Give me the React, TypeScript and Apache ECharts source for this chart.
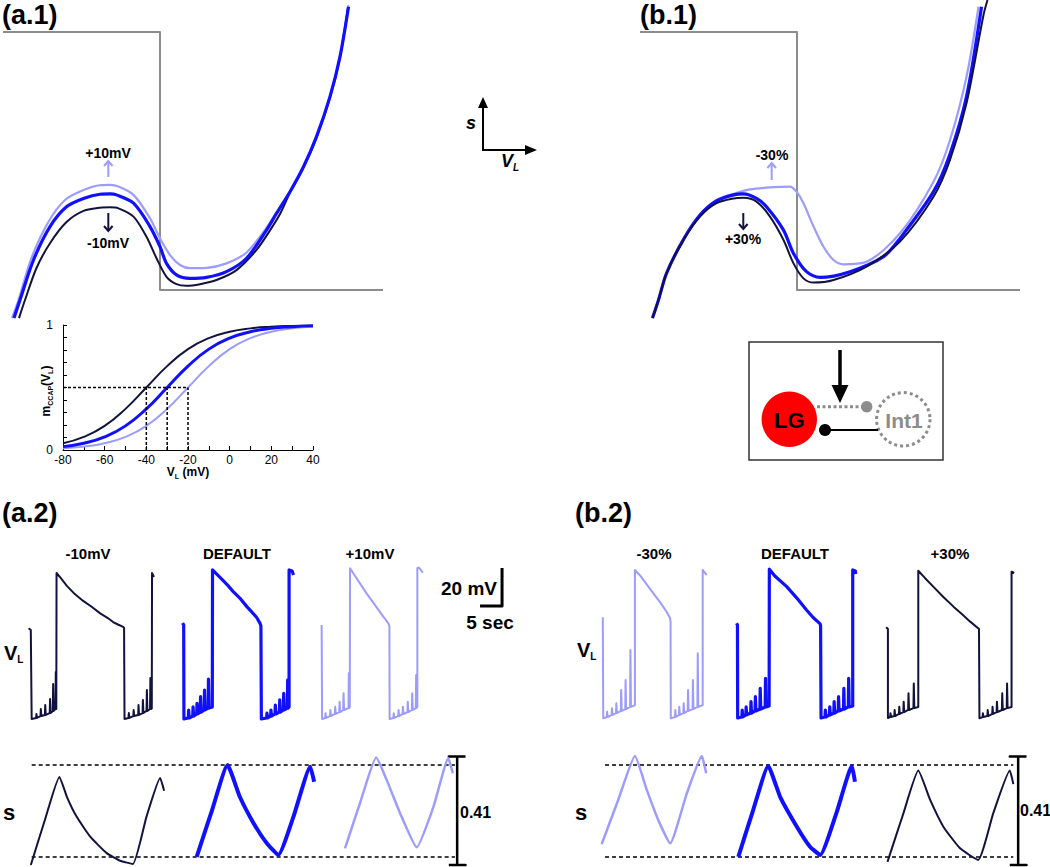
import React, { useEffect, useRef } from "react";
import * as echarts from "echarts";

type P = [number, number];
type Spike = [number, number, number]; // [time s, baseline mV, spike peak mV]

const FONT = '"Liberation Sans", Arial, sans-serif';
const DARK = "#12123e";
const BLUE = "#1010ff";
const LIGHT = "#9c9cff";
const GRAY = "#8c8c8c";

// ---------- (a.1) / (b.1) nullclines : [V_L (mV, arbitrary origin), s] ----------
const stepNullcline: P[] = [[-59.4, 0.9], [-28, 0.9], [-28, 0.094], [16.6, 0.094]];

const a1Default: P[] = [[-57.2, 0.006], [-56, 0.0625], [-53.3, 0.1875], [-50, 0.292], [-46.7, 0.354], [-43.3, 0.38], [-40, 0.393], [-38, 0.394], [-36.7, 0.391], [-33.3, 0.365], [-30, 0.292], [-28, 0.229], [-26.7, 0.177], [-24.7, 0.141], [-22, 0.13], [-18.7, 0.133], [-14.7, 0.151], [-10.7, 0.193], [-6.7, 0.281], [-4.7, 0.333], [-2, 0.401], [0.7, 0.479], [3.3, 0.573], [6, 0.698], [8, 0.823], [9.7, 0.979]];
const a1Plus10: P[] = [[-57.6, 0.006], [-56.3, 0.0625], [-53.7, 0.194], [-50.3, 0.307], [-47, 0.375], [-43.3, 0.406], [-40, 0.421], [-38, 0.422], [-36.3, 0.417], [-33.3, 0.391], [-30, 0.318], [-28, 0.255], [-26, 0.203], [-24, 0.172], [-22, 0.162], [-18.7, 0.163], [-14.7, 0.177], [-10.7, 0.211], [-6.7, 0.288], [-4.7, 0.336], [-2, 0.4], [0.7, 0.478], [3.3, 0.572], [6, 0.697], [8, 0.822], [9.7, 0.984]];
const a1Minus10: P[] = [[-56.2, 0.006], [-55, 0.0625], [-52.7, 0.1625], [-50, 0.24], [-46.7, 0.306], [-43.3, 0.341], [-40, 0.351], [-38, 0.352], [-36.3, 0.349], [-33.3, 0.323], [-30.7, 0.26], [-28.7, 0.193], [-26.7, 0.135], [-24.7, 0.112], [-22.7, 0.107], [-20, 0.112], [-16.7, 0.125], [-12.7, 0.156], [-8.7, 0.219], [-6, 0.28], [-4, 0.331], [-2, 0.398], [0.7, 0.477], [3.3, 0.57], [6, 0.695], [8, 0.82], [9.6, 0.975]];

const b1Plus30: P[] = [[-56.9, 0.006], [-55.7, 0.0625], [-54.1, 0.146], [-50.7, 0.25], [-47.4, 0.323], [-44.1, 0.365], [-40.7, 0.38], [-38.7, 0.382], [-36.1, 0.37], [-33.4, 0.323], [-30.7, 0.25], [-28.7, 0.177], [-26.7, 0.13], [-24.7, 0.117], [-20.7, 0.125], [-14.1, 0.167], [-7.4, 0.245], [-0.7, 0.385], [2.6, 0.5], [5.9, 0.677], [9.3, 0.953], [10.1, 1.0]];
const b1Default: P[] = [[-56.9, 0.006], [-55.7, 0.0625], [-54.1, 0.146], [-50.7, 0.252], [-47.4, 0.328], [-44.1, 0.372], [-40.7, 0.391], [-38.7, 0.394], [-36.1, 0.38], [-34.1, 0.354], [-30.7, 0.281], [-28.7, 0.208], [-26.1, 0.151], [-23.4, 0.133], [-17.4, 0.151], [-10.7, 0.198], [-7.4, 0.255], [-0.7, 0.401], [2.6, 0.519], [5.9, 0.698], [8.9, 0.979]];
const b1Minus30: P[] = [[-56.9, 0.006], [-55.7, 0.0625], [-54.1, 0.146], [-50.7, 0.252], [-47.4, 0.328], [-44.1, 0.375], [-40.7, 0.394], [-37.4, 0.408], [-32.7, 0.415], [-29.4, 0.417], [-28.1, 0.401], [-26.7, 0.365], [-24.7, 0.292], [-22.7, 0.229], [-20.7, 0.1875], [-18.7, 0.174], [-14.1, 0.182], [-7.4, 0.271], [-0.7, 0.432], [2.6, 0.5625], [5.9, 0.76], [8.3, 0.979]];

// ---------- inset m_CCAP(V_L) ----------
const mVolt = [-80, -70, -60, -50, -40, -30, -20, -10, 0, 10, 20, 30, 40];
const mMinus10 = [0.054, 0.105, 0.193, 0.329, 0.5, 0.671, 0.807, 0.895, 0.946, 0.973, 0.986, 0.993, 0.997];
const mDefault = [0.027, 0.054, 0.105, 0.193, 0.329, 0.5, 0.671, 0.807, 0.895, 0.946, 0.973, 0.986, 0.993];
const mPlus10 = [0.014, 0.027, 0.054, 0.105, 0.193, 0.329, 0.5, 0.671, 0.807, 0.895, 0.946, 0.973, 0.986];
const halfActV = [-40, -30, -20];
const halfActM = 0.5;

// ---------- V_L traces : time (s) , mV ----------
const a2m10Start: P[] = [[6.5, -19.1], [7.0, -20.0], [7.2, -66.8]];
const a2m10Burst1: Spike[] = [[8.2, -66.3, -64.2], [9.2, -65.3, -61.6], [10.2, -64.7, -59.5], [11.3, -63.7, -56.3], [12.0, -62.6, -48.4], [12.6, -61.6, -42.1]];
const a2m10Plateau: P[] = [[12.85, -61.6], [12.85, 10.0], [13.6, 7.9], [15.2, 3.2], [17.0, -1.1], [18.9, -4.7], [20.9, -7.9], [22.7, -11.1], [24.5, -13.7], [25.7, -15.8], [26.8, -17.1], [28.0, -18.4], [28.2, -18.9], [28.3, -66.8]];
const a2m10Burst2: Spike[] = [[29.2, -66.3, -63.7], [30.3, -65.3, -62.1], [31.4, -64.7, -59.5], [32.4, -63.7, -56.8], [33.3, -62.6, -51.6], [34.1, -61.6, -45.3]];
const a2m10End: P[] = [[34.5, -61.3], [34.55, 10.0], [35.0, 7.9]];

const a2defStart: P[] = [[41.5, -16.3], [41.75, -17.4], [41.8, -66.8]];
const a2defBurst1: Spike[] = [[42.8, -66.3, -62.1], [43.8, -65.3, -60.4], [44.7, -64.2, -58.6], [45.5, -63.2, -55.1], [46.4, -62.1, -51.6], [47.3, -61.1, -45.9]];
const a2defPlateau: P[] = [[48.25, -60.5], [48.3, 11.6], [50.0, 7.7], [51.5, 4.2], [53.0, 0.2], [54.5, -3.2], [56.1, -7.7], [57.2, -10.5], [58.3, -13.3], [59.1, -16.5], [59.3, -17.9], [59.4, -66.8]];
const a2defBurst2: Spike[] = [[60.6, -66.3, -63.8], [61.5, -65.3, -62.1], [62.5, -64.2, -59.5], [63.5, -63.2, -56.8], [64.4, -62.1, -53.3], [65.3, -61.1, -46.3]];
const a2defEnd: P[] = [[65.7, -60.5], [65.7, 11.6], [66.4, 11.1], [66.7, 8.9]];

const a2p10Start: P[] = [[73.1, -17.4], [73.2, -66.8]];
const a2p10Burst1: Spike[] = [[73.9, -66.3, -63.8], [75.0, -65.3, -62.1], [76.1, -64.2, -60.4], [77.1, -63.2, -57.7], [78.0, -62.1, -53.3], [79.2, -61.1, -42.8]];
const a2p10Plateau: P[] = [[79.5, -60.5], [79.55, 12.5], [80.7, 8.4], [83.3, -0.7], [85.2, -6.8], [87.1, -13.0], [87.7, -14.7], [88.25, -16.5], [88.5, -17.9], [88.55, -66.8]];
const a2p10Burst2: Spike[] = [[89.4, -66.3, -63.8], [90.5, -65.3, -62.1], [91.5, -64.2, -60.4], [92.6, -63.2, -57.7], [93.6, -62.1, -53.3], [94.5, -61.1, -43.7]];
const a2p10End: P[] = [[94.85, -60.5], [94.85, 12.5], [95.2, 12.9], [96.1, 10.2]];

const b2m30Start: P[] = [[137.0, -13.3], [137.1, -66.5]];
const b2m30Burst1: Spike[] = [[137.9, -65.8, -63.0], [139.0, -64.7, -61.2], [140.0, -63.7, -58.6], [141.1, -62.6, -51.6], [142.1, -61.6, -46.3], [143.2, -60.5, -30.5]];
const b2m30Plateau: P[] = [[144.3, -59.5], [144.3, 11.6], [145.5, 8.6], [148.5, -0.7], [150.0, -5.3], [151.5, -10.4], [152.3, -13.8], [152.4, -15.8], [152.45, -66.5]];
const b2m30Burst2: Spike[] = [[153.4, -65.8, -62.1], [154.3, -64.7, -60.4], [155.3, -63.7, -58.6], [156.3, -62.6, -51.6], [157.4, -61.6, -46.3], [158.5, -60.5, -32.3]];
const b2m30End: P[] = [[159.7, -59.5], [159.7, 11.6], [160.6, 8.9]];

const b2defStart: P[] = [[167.4, -16.5], [167.6, -17.4], [167.65, -66.3]];
const b2defBurst1: Spike[] = [[168.6, -65.8, -62.1], [169.5, -64.7, -60.4], [170.6, -63.7, -57.7], [171.6, -62.6, -55.1], [172.7, -61.6, -50.7], [173.9, -60.5, -45.4]];
const b2defPlateau: P[] = [[174.8, -60.0], [174.85, 12.0], [176.1, 8.4], [178.8, 2.8], [181.1, -3.2], [183.3, -9.5], [184.8, -13.4], [186.4, -16.8], [186.5, -17.9], [186.6, -66.3]];
const b2defBurst2: Spike[] = [[187.5, -65.8, -62.1], [188.5, -64.7, -60.4], [189.5, -63.7, -57.7], [190.5, -62.6, -55.1], [191.7, -61.6, -50.7], [192.8, -60.5, -45.4]];
const b2defEnd: P[] = [[193.8, -60.0], [193.8, 11.6], [194.4, 11.1], [194.5, 9.5]];

const b2p30Start: P[] = [[201.4, -18.6], [201.8, -19.5], [201.8, -66.3]];
const b2p30Burst1: Spike[] = [[202.3, -65.8, -63.8], [203.25, -65.3, -62.1], [204.3, -64.2, -60.4], [205.3, -63.2, -57.7], [206.4, -62.1, -53.3], [207.6, -61.1, -48.1]];
const b2p30Plateau: P[] = [[208.7, -60.5], [208.7, 11.2], [210.2, 7.4], [212.1, 2.8], [214.4, -2.6], [216.7, -7.7], [218.6, -11.6], [220.5, -15.6], [222.3, -19.1], [222.5, -19.5], [222.6, -66.5]];
const b2p30Burst2: Spike[] = [[223.3, -65.8, -63.8], [224.4, -65.3, -62.1], [225.5, -64.2, -60.4], [226.5, -63.2, -57.7], [227.7, -62.1, -53.3], [228.8, -61.1, -48.1]];
const b2p30End: P[] = [[229.9, -60.5], [229.9, 10.7], [230.5, 10.0]];

// scale bar: 5 sec x 20 mV
const scaleBarOrigin: P = [109.1, -7.4];
const scaleBarSec = 5;
const scaleBarMV = 20;

// ---------- s traces : time (s), s ----------
const sA2Minus10: P[] = [[7.0, 0.0], [10.2, 0.17], [13.5, 0.333], [15.2, 0.258], [17.4, 0.183], [20.5, 0.107], [24.25, 0.045], [27.3, 0.016], [30.2, 0.004], [33.3, 0.183], [36.4, 0.329], [37.3, 0.281]];
const sA2Default: P[] = [[44.7, 0.031], [48.2, 0.208], [51.7, 0.378], [54.5, 0.258], [57.6, 0.159], [60.6, 0.083], [63.25, 0.038], [66.7, 0.183], [70.5, 0.372], [71.4, 0.315]];
const sA2Plus10: P[] = [[78.4, 0.063], [81.8, 0.233], [85.5, 0.407], [87.9, 0.321], [90.9, 0.197], [94.7, 0.067], [98.5, 0.22], [101.9, 0.404], [102.9, 0.347]];
const sB2Minus30: P[] = [[136.75, 0.079], [140.5, 0.246], [144.3, 0.412], [147.0, 0.284], [149.6, 0.17], [152.3, 0.082], [156.1, 0.271], [159.5, 0.412], [160.5, 0.347]];
const sB2Default: P[] = [[167.8, 0.031], [171.1, 0.204], [174.6, 0.374], [177.3, 0.258], [181.1, 0.145], [184.1, 0.069], [186.4, 0.038], [190.2, 0.202], [193.6, 0.374], [194.3, 0.315]];
const sB2Plus30: P[] = [[201.7, 0.012], [205.2, 0.189], [208.7, 0.357], [211.4, 0.246], [214.4, 0.145], [218.2, 0.063], [222.3, 0.019], [225.75, 0.196], [229.5, 0.357], [230.3, 0.306]];

const sDefaultLevels = [0.03, 0.378];
const sGuideA2 = [7.2, 103.4];
const sGuideB2 = [137.5, 230.3];
const sBracket = [0, 0.41];
const sBracketT = [103.9, 231.4];

// ---------------------------------------------------------------
const expandBurst = (spikes: Spike[]): P[] =>
  spikes.flatMap(([t, b, p]) => [[t, b], [t + 0.08, p], [t + 0.2, b]] as P[]);
const buildTrace = (s: P[], b1: Spike[], pl: P[], b2: Spike[], e: P[]): P[] => [
  ...s, ...expandBurst(b1), ...pl, ...expandBurst(b2), ...e,
];

const ln = (axis: number, data: any[], color: string, width: number, smooth: number | boolean = false, dash?: number[]) => ({
  type: "line",
  xAxisIndex: axis,
  yAxisIndex: axis,
  data,
  symbol: "none",
  showSymbol: false,
  smooth,
  silent: true,
  clip: false,
  animation: false,
  lineStyle: { color, width, type: dash ?? "solid", cap: "butt", join: "round" },
  emphasis: { disabled: true },
});

export default function App() {
  const ref = useRef<HTMLDivElement>(null);

  useEffect(() => {
    if (!ref.current) return;
    const chart = echarts.init(ref.current, undefined, { renderer: "svg" });

    const canvas = document.createElement("canvas");
    const ctx = canvas.getContext("2d")!;
    const measure = (t: string, font: string) => {
      ctx.font = font;
      return ctx.measureText(t).width;
    };

    const T = (text: string, x: number, y: number, size: number, extra: any = {}) => {
      const align = extra.align ?? "center";
      return {
        type: "text",
        x,
        y,
        silent: true,
        z: 10,
        style: {
          text,
          fontSize: size,
          fontWeight: extra.fontWeight ?? "bold",
          fontStyle: extra.fontStyle ?? "normal",
          fontFamily: FONT,
          fill: extra.fill ?? "#000",
          align,
          verticalAlign: "middle",
          textAlign: align,
          textVerticalAlign: "middle",
        },
      };
    };

    const subLabel = (
      parts: { t: string; sub?: boolean }[],
      x: number,
      y: number,
      size: number,
      subSize: number,
      align: "left" | "center" | "right",
      rotation = 0,
      italic = false,
      weight = "bold"
    ) => {
      const st = italic ? "italic" : "normal";
      const widths = parts.map((p) => measure(p.t, `${st} ${weight} ${p.sub ? subSize : size}px ${FONT}`));
      const total = widths.reduce((a, b) => a + b, 0);
      let cx = align === "center" ? -total / 2 : align === "right" ? -total : 0;
      const children = parts.map((p, i) => {
        const el = {
          type: "text",
          x: cx,
          y: p.sub ? size * 0.34 : 0,
          style: {
            text: p.t,
            fontSize: p.sub ? subSize : size,
            fontWeight: weight,
            fontStyle: st,
            fontFamily: FONT,
            fill: "#000",
            align: "left",
            verticalAlign: "middle",
            textAlign: "left",
            textVerticalAlign: "middle",
          },
        };
        cx += widths[i];
        return el;
      });
      return { type: "group", x, y, rotation, silent: true, z: 10, children };
    };

    const L = (x1: number, y1: number, x2: number, y2: number, stroke: string, lineWidth: number, lineDash?: number[]) => ({
      type: "line",
      silent: true,
      z: 10,
      shape: { x1, y1, x2, y2 },
      style: { stroke, lineWidth, lineDash, lineCap: "butt" },
    });
    const PL = (points: number[][], stroke: string, lineWidth: number) => ({
      type: "polyline",
      silent: true,
      z: 10,
      shape: { points },
      style: { stroke, lineWidth, fill: null, lineJoin: "miter" },
    });
    const PG = (points: number[][], fill: string) => ({
      type: "polygon",
      silent: true,
      z: 10,
      shape: { points },
      style: { fill },
    });
    const C = (cx: number, cy: number, r: number, style: any) => ({
      type: "circle",
      silent: true,
      z: 10,
      shape: { cx, cy, r },
      style,
    });

    const graphic: any[] = [
      T("(a.1)", 2, 15, 27, { align: "left" }),
      T("(b.1)", 640, 15, 27, { align: "left" }),
      T("(a.2)", 2, 513, 27, { align: "left" }),
      T("(b.2)", 575, 513, 27, { align: "left" }),

      // (a.1) annotations
      T("+10mV", 108, 153, 14),
      L(108.3, 161, 108.3, 177, LIGHT, 2),
      PL([[104, 166], [108.3, 161], [112.6, 166]], LIGHT, 2),
      L(108.3, 213, 108.3, 231, DARK, 2),
      PL([[104, 226], [108.3, 231], [112.6, 226]], DARK, 2),
      T("-10mV", 108, 243, 14),

      // (b.1) annotations
      T("-30%", 772, 155, 14),
      L(771.7, 163, 771.7, 180, LIGHT, 2),
      PL([[767.4, 168], [771.7, 163], [776, 168]], LIGHT, 2),
      L(743.3, 213, 743.3, 229, DARK, 2),
      PL([[739, 224], [743.3, 229], [747.6, 224]], DARK, 2),
      T("+30%", 743, 239, 14),

      // axis indicator
      L(483, 151, 483, 106, "#000", 2),
      PG([[478, 108], [488, 108], [483, 97]], "#000"),
      L(482, 150, 527, 150, "#000", 2),
      PG([[525, 145], [525, 155], [537, 150]], "#000"),
      subLabel([{ t: "s" }], 466, 123, 18, 10, "left", 0, true),
      subLabel([{ t: "V" }, { t: "L", sub: true }], 501, 161, 18, 10, "left", 0, true),

      // inset titles
      subLabel([{ t: "m" }, { t: "CCAP", sub: true }, { t: "(V" }, { t: "L", sub: true }, { t: ")" }], 46, 391, 12, 7, "center", Math.PI / 2),
      subLabel([{ t: "V" }, { t: "L", sub: true }, { t: " (mV)" }], 188, 472, 12, 7, "center"),

      // circuit diagram
      { type: "rect", silent: true, z: 5, shape: { x: 749, y: 342, width: 194, height: 118 }, style: { fill: "#fff", stroke: "#333", lineWidth: 1.5 } },
      C(789.3, 419.3, 27.7, { fill: "#ff0000" }),
      T("LG", 789.3, 420.5, 22),
      C(903.3, 419.3, 26.7, { fill: "none", stroke: GRAY, lineWidth: 3, lineDash: [3, 3] }),
      T("Int1", 904, 420.5, 21, { fill: GRAY }),
      L(817, 406.7, 864, 406.7, GRAY, 3, [3, 2.5]),
      C(866.7, 406.7, 5.7, { fill: GRAY }),
      L(825, 430, 878, 430, "#000", 2),
      C(825, 430, 6, { fill: "#000" }),
      L(840, 350, 840, 388, "#000", 3.5),
      PG([[831.5, 385], [848.5, 385], [840, 403]], "#000"),

      // (a.2)/(b.2) labels
      T("-10mV", 88, 553, 15),
      T("DEFAULT", 237, 553, 15),
      T("+10mV", 370, 553, 15),
      T("-30%", 654, 553, 15),
      T("DEFAULT", 795, 553, 15),
      T("+30%", 950, 553, 15),
      T("20 mV", 497, 588, 19, { align: "right" }),
      T("5 sec", 490, 622, 19),
      subLabel([{ t: "V" }, { t: "L", sub: true }], 4, 653, 20, 10, "left"),
      subLabel([{ t: "V" }, { t: "L", sub: true }], 577, 650, 20, 10, "left"),
      T("s", 3, 812, 22, { align: "left" }),
      T("s", 575, 812, 22, { align: "left" }),
      T("0.41", 460, 812, 16, { align: "left" }),
      T("0.41", 1020, 810, 16, { align: "left" }),
    ];

    const hiddenX = (grid: number, min: number, max: number) => ({ gridIndex: grid, type: "value", min, max, show: false });
    const hiddenY = hiddenX;

    const sig = (vals: number[]) => mVolt.map((v, i) => [v, vals[i]]);
    const scaleBar: P[] = [
      scaleBarOrigin,
      [scaleBarOrigin[0] + scaleBarSec, scaleBarOrigin[1]],
      [scaleBarOrigin[0] + scaleBarSec, scaleBarOrigin[1] + scaleBarMV],
    ];
    const guide = (range: number[], lvl: number) => [[range[0], lvl], [range[1], lvl]];
    const bracket = (t: number) => [
      [t - 1.9, sBracket[0]], [t + 1.9, sBracket[0]], [t, sBracket[0]],
      [t, sBracket[1]], [t - 1.9, sBracket[1]], [t + 1.9, sBracket[1]],
    ];

    const series: any[] = [
      // (a.1)
      ln(0, stepNullcline, GRAY, 2),
      ln(0, a1Minus10, DARK, 2, 0.3),
      ln(0, a1Plus10, LIGHT, 2.2, 0.3),
      ln(0, a1Default, BLUE, 3.2, 0.3),
      // (b.1)
      ln(1, stepNullcline, GRAY, 2),
      ln(1, b1Minus30, LIGHT, 2.2, 0.3),
      ln(1, b1Default, BLUE, 3.2, 0.3),
      ln(1, b1Plus30, DARK, 2, 0.3),
      // inset
      ln(2, sig(mPlus10), LIGHT, 2, true),
      ln(2, sig(mMinus10), DARK, 2, true),
      ln(2, sig(mDefault), BLUE, 3, true),
      ln(2, [[-80, halfActM], [halfActV[2], halfActM]], "#000", 1.5, false, [3, 2]),
      ...halfActV.map((v) => ln(2, [[v, 0], [v, halfActM]], "#000", 1.5, false, [3, 2])),
      // V_L traces
      ln(3, buildTrace(a2m10Start, a2m10Burst1, a2m10Plateau, a2m10Burst2, a2m10End), DARK, 2),
      ln(3, buildTrace(a2defStart, a2defBurst1, a2defPlateau, a2defBurst2, a2defEnd), BLUE, 3.2),
      ln(3, buildTrace(a2p10Start, a2p10Burst1, a2p10Plateau, a2p10Burst2, a2p10End), LIGHT, 2),
      ln(3, buildTrace(b2m30Start, b2m30Burst1, b2m30Plateau, b2m30Burst2, b2m30End), LIGHT, 2),
      ln(3, buildTrace(b2defStart, b2defBurst1, b2defPlateau, b2defBurst2, b2defEnd), BLUE, 3.2),
      ln(3, buildTrace(b2p30Start, b2p30Burst1, b2p30Plateau, b2p30Burst2, b2p30End), DARK, 2),
      ln(3, scaleBar, "#000", 3),
      // s traces
      ...sDefaultLevels.map((l) => ln(4, guide(sGuideA2, l), "#000", 1.5, false, [4, 3])),
      ...sDefaultLevels.map((l) => ln(4, guide(sGuideB2, l), "#000", 1.5, false, [4, 3])),
      ...sBracketT.map((t) => ln(4, bracket(t), "#000", 2.5)),
      ln(4, sA2Minus10, DARK, 2, 0.15),
      ln(4, sA2Default, BLUE, 4, 0.15),
      ln(4, sA2Plus10, LIGHT, 2.5, 0.15),
      ln(4, sB2Minus30, LIGHT, 2.5, 0.15),
      ln(4, sB2Default, BLUE, 4, 0.15),
      ln(4, sB2Plus30, DARK, 2, 0.15),
    ];

    const axisCommon = {
      axisLine: { show: true, onZero: false, lineStyle: { color: "#000", width: 1 } },
      axisTick: { show: true, inside: true, length: 4, lineStyle: { color: "#000", width: 1 } },
      splitLine: { show: false },
    };

    chart.setOption({
      animation: false,
      backgroundColor: "#fff",
      grid: [
        { left: 0, top: 0, width: 400, height: 320 },
        { left: 637, top: 0, width: 400, height: 320 },
        { left: 63, top: 325, width: 250, height: 125 },
        { left: 0, top: 565, width: 1050, height: 160 },
        { left: 0, top: 746, width: 1050, height: 119 },
      ],
      xAxis: [
        hiddenX(0, -60, 20),
        hiddenX(1, -60, 20),
        {
          gridIndex: 2,
          type: "value",
          min: -80,
          max: 40,
          interval: 10,
          ...axisCommon,
          axisLabel: {
            color: "#000",
            fontSize: 12,
            fontFamily: FONT,
            margin: 4,
            formatter: (v: number) => (Math.round(v) % 20 === 0 ? String(Math.round(v)) : ""),
          },
        },
        hiddenX(3, 0, 1050 / 4.4),
        hiddenX(4, 0, 1050 / 4.4),
      ],
      yAxis: [
        hiddenY(0, 0, 1),
        hiddenY(1, 0, 1),
        {
          gridIndex: 2,
          type: "value",
          min: 0,
          max: 1,
          interval: 0.1,
          ...axisCommon,
          axisLabel: {
            color: "#000",
            fontSize: 12,
            fontFamily: FONT,
            margin: 10,
            formatter: (v: number) => (Math.abs(v) < 1e-6 ? "0" : Math.abs(v - 1) < 1e-6 ? "1" : ""),
          },
        },
        hiddenY(3, -70, -70 + 160 / 1.9),
        hiddenY(4, 0, 119 / 264.4),
      ],
      series,
      graphic,
    });

    return () => chart.dispose();
  }, []);

  return (
    <div
      ref={ref}
      style={{ position: "absolute", left: 0, top: 0, width: 1050, height: 867, background: "#fff" }}
    />
  );
}
